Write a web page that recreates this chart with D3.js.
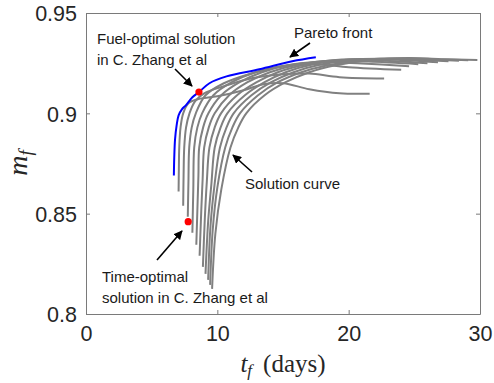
<!DOCTYPE html>
<html><head><meta charset="utf-8">
<script src="https://cdn.jsdelivr.net/npm/d3@7"></script>
<style>body{margin:0;background:#fff}svg{display:block}</style>
</head><body>
<svg id="chart" width="494" height="383"></svg>
<script>
// ---- data ----
const xTicks = [0, 10, 20, 30];
const yTicks = [0.8, 0.85, 0.9, 0.95];
const xTickLabels = ["0", "10", "20", "30"];
const yTickLabels = ["0.8", "0.85", "0.9", "0.95"];

const paretoFront = [[6.69,0.869],[6.72,0.878],[6.78,0.887],[6.9,0.894],[7.05,0.899],[7.3,0.902],[7.6,0.904],[8.1,0.908],[8.6,0.9106],[9.4,0.915],[10.7,0.9184],[13.2,0.922],[15.7,0.926],[17.5,0.928]];

const curve01 = [[7.05,0.861],[7.07,0.872],[7.1,0.883],[7.2,0.893],[7.4,0.900],[7.8,0.905],[8.5,0.907],[10,0.9085],[12,0.9115],[13.5,0.9145],[15,0.915],[17,0.912],[19.3,0.910],[21.6,0.9098]];
const curve02 = [[7.4,0.854],[7.43,0.869],[7.48,0.883],[7.62,0.893],[7.88,0.900],[8.3,0.906],[9.0,0.910],[10.5,0.9135],[12.7,0.9176],[15,0.9195],[17,0.9198],[19.3,0.918],[22.7,0.9174]];
const curve03 = [[7.75,0.8485],[7.8,0.866],[7.86,0.883],[8.05,0.893],[8.36,0.900],[9.1,0.909],[10.5,0.915],[12.4,0.9195],[15,0.9235],[17.5,0.9245],[20,0.923],[24,0.9217]];
const curve04 = [[8.1,0.8405],[8.17,0.862],[8.24,0.883],[8.48,0.893],[8.84,0.900],[9.7,0.909],[11.1,0.9155],[12.9,0.9205],[15.3,0.924],[18,0.9255],[21,0.9248],[24.6,0.9235]];
const curve05 = [[8.4,0.8345],[8.5,0.856],[8.56,0.869],[8.62,0.883],[8.92,0.893],[9.32,0.900],[10.3,0.909],[11.7,0.9155],[13.4,0.9205],[15.8,0.9245],[18.5,0.926],[21.5,0.9258],[25.3,0.9245]];
const curve06 = [[8.65,0.829],[8.78,0.852],[8.88,0.867],[9.0,0.883],[9.35,0.893],[9.8,0.900],[10.9,0.909],[12.3,0.9155],[14.0,0.9205],[16.3,0.9245],[19,0.9265],[22,0.9265],[26,0.925]];
const curve07 = [[8.9,0.8235],[9.05,0.848],[9.2,0.866],[9.4,0.883],[9.8,0.893],[10.28,0.900],[11.5,0.909],[13.0,0.9155],[14.6,0.9205],[16.8,0.9245],[19.5,0.9268],[22.5,0.927],[26.8,0.9255]];
const curve08 = [[9.1,0.820],[9.3,0.846],[9.55,0.865],[9.8,0.883],[10.25,0.893],[10.76,0.900],[12.1,0.909],[13.6,0.9155],[15.2,0.9205],[17.3,0.9245],[20,0.9268],[23,0.9272],[27.6,0.926]];
const curve09 = [[9.3,0.817],[9.48,0.844],[9.78,0.864],[10.2,0.883],[10.7,0.893],[11.24,0.900],[12.6,0.909],[14.1,0.9155],[15.8,0.9205],[17.8,0.9242],[20.5,0.9266],[23.5,0.9272],[28.4,0.9262]];
const curve10 = [[9.45,0.8145],[9.65,0.842],[10.0,0.863],[10.6,0.883],[11.15,0.893],[11.72,0.900],[13.1,0.909],[14.6,0.9155],[16.4,0.9205],[18.4,0.924],[21,0.9265],[24,0.9274],[26.5,0.927],[29.1,0.9265]];
const curve11 = [[9.6,0.8125],[9.85,0.840],[10.3,0.862],[11.0,0.883],[11.6,0.893],[12.2,0.900],[13.6,0.909],[15.2,0.9155],[17.0,0.9205],[19,0.924],[21.5,0.9265],[24.5,0.9276],[27,0.927],[29.8,0.9266]];
const solutionCurves = [curve01,curve02,curve03,curve04,curve05,curve06,curve07,curve08,curve09,curve10,curve11];

const fuelOptimal = [8.6, 0.9106];
const timeOptimal = [7.78, 0.846];

// ---- layout ----
const svg = d3.select("#chart");
const L = 86, R = 480, T = 13, B = 314;
const x = d3.scaleLinear().domain([0, 30]).range([L, R]);
const y = d3.scaleLinear().domain([0.8, 0.95]).range([B, T]);
const axisColor = "#7a7a7a";
const textColor = "#262626";

// axes with inward ticks
const gx = svg.append("g").attr("transform", `translate(0,${B})`)
  .call(d3.axisBottom(x).tickValues(xTicks).tickSizeInner(-4).tickSizeOuter(0)
        .tickFormat((d,i)=>xTickLabels[i]).tickPadding(12));
const gxTop = svg.append("g").attr("transform", `translate(0,${T})`)
  .call(d3.axisTop(x).tickValues(xTicks).tickSizeInner(-4).tickSizeOuter(0).tickFormat(""));
const gy = svg.append("g").attr("transform", `translate(${L},0)`)
  .call(d3.axisLeft(y).tickValues(yTicks).tickSizeInner(-4).tickSizeOuter(0)
        .tickFormat((d,i)=>yTickLabels[i]).tickPadding(9));
const gyR = svg.append("g").attr("transform", `translate(${R},0)`)
  .call(d3.axisRight(y).tickValues(yTicks).tickSizeInner(-4).tickSizeOuter(0).tickFormat(""));
[gx,gxTop,gy,gyR].forEach(g=>{
  g.selectAll(".domain").attr("stroke", axisColor).attr("stroke-width",1);
  g.selectAll(".tick line").attr("stroke", axisColor);
  g.selectAll("text").attr("fill", textColor).attr("font-family","'Liberation Sans', Arial, sans-serif").attr("font-size",21.5);
});
gx.selectAll("text").attr("dy","0.71em");
gy.selectAll("text").attr("dy","0.36em");

// axis labels
const xl = svg.append("text").attr("x", 283).attr("y", 372).attr("text-anchor","middle")
  .attr("font-family","'Liberation Serif','Times New Roman',serif").attr("font-size",25).attr("fill",textColor);
xl.append("tspan").attr("font-style","italic").text("t");
xl.append("tspan").attr("font-style","italic").attr("font-size",17).attr("dy",4).text("f");
xl.append("tspan").attr("dy",-4).attr("dx",11).text("(days)");

const yl = svg.append("text").attr("transform","translate(27,163) rotate(-90)").attr("text-anchor","middle")
  .attr("font-family","'Liberation Serif','Times New Roman',serif").attr("font-size",28).attr("fill",textColor);
yl.append("tspan").attr("font-style","italic").text("m");
yl.append("tspan").attr("font-style","italic").attr("font-size",19).attr("dy",5).text("f");

// curves
const line = d3.line().x(d=>x(d[0])).y(d=>y(d[1])).curve(d3.curveCatmullRom.alpha(0.5));
svg.append("g").selectAll("path").data(solutionCurves).join("path")
  .attr("d", line).attr("fill","none").attr("stroke","#808080").attr("stroke-width",2);
svg.append("path").datum(paretoFront).attr("d", line).attr("fill","none")
  .attr("stroke","#0000ff").attr("stroke-width",2);

// red markers
svg.selectAll("circle.opt").data([fuelOptimal, timeOptimal]).join("circle")
  .attr("cx",d=>x(d[0])).attr("cy",d=>y(d[1])).attr("r",3.6).attr("fill","#ff0000");

// annotations
const defs = svg.append("defs");
defs.append("marker").attr("id","ah").attr("viewBox","0 0 10 10").attr("refX",9).attr("refY",5)
  .attr("markerWidth",9).attr("markerHeight",9).attr("markerUnits","userSpaceOnUse").attr("orient","auto")
  .append("path").attr("d","M0,0 L10,5 L0,10 z").attr("fill","#000");
const arrows = [[175,69,192,86],[310,43,290,57],[252,172,233,155],[157,260,182,231]];
svg.selectAll("line.arr").data(arrows).join("line")
  .attr("x1",d=>d[0]).attr("y1",d=>d[1]).attr("x2",d=>d[2]).attr("y2",d=>d[3])
  .attr("stroke","#000").attr("stroke-width",1.6).attr("marker-end","url(#ah)");

const notes = [["Fuel-optimal solution",97,44],["in C. Zhang et al",97,65],["Pareto front",294,38],
  ["Solution curve",245,189],["Time-optimal",102,282],["solution in C. Zhang et al",102,303]];
svg.selectAll("text.note").data(notes).join("text").attr("class","note")
  .attr("x",d=>d[1]).attr("y",d=>d[2]).text(d=>d[0])
  .attr("font-family","'Liberation Sans', Arial, sans-serif").attr("font-size",15).attr("fill","#1a1a1a");
</script>
</body></html>
